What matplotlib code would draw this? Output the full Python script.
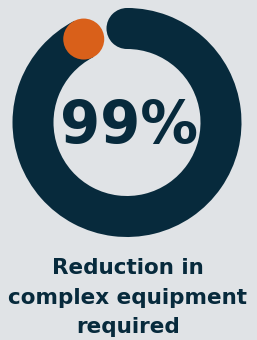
import numpy as np
import matplotlib
matplotlib.use("Agg")
import matplotlib.pyplot as plt
from matplotlib.patches import Wedge, Circle

value = 99
label_lines = ["Reduction in", "complex equipment", "required"]

bg = "#e0e3e6"
navy = "#072a3c"
orange = "#d9601a"

fig = plt.figure(figsize=(2.57, 3.40), dpi=100)
fig.patch.set_facecolor(bg)
ax = fig.add_axes([0, 0, 1, 1])
ax.set_xlim(0, 257)
ax.set_ylim(0, 340)
ax.set_aspect("equal")
ax.axis("off")

cx, cy = 127, 217.5
r_out = 114.5
ring_w = 41
r_mid = r_out - ring_w / 2
start_deg = 90
end_deg = 117.4

# dark ring, round cap at the top, orange dot at the other end
ax.add_patch(Wedge((cx, cy), r_out, end_deg, start_deg + 360, width=ring_w,
                   facecolor=navy, edgecolor="none"))
a = np.deg2rad(start_deg)
ax.add_patch(Circle((cx + r_mid * np.cos(a), cy + r_mid * np.sin(a)), ring_w / 2,
                    facecolor=navy, edgecolor="none"))
b = np.deg2rad(end_deg)
ax.add_patch(Circle((cx + r_mid * np.cos(b), cy + r_mid * np.sin(b)), ring_w / 2,
                    facecolor=orange, edgecolor="none", zorder=3))

ax.text(cx + 2, cy - 4, f"{value}%", ha="center", va="center", fontsize=41.5,
        fontweight="bold", color=navy, family="DejaVu Sans")

for i, line in enumerate(label_lines):
    ax.text(128, 340 - 268 - i * 29.5, line, ha="center", va="center", fontsize=15.5,
            fontweight="bold", color=navy, family="DejaVu Sans")

fig.savefig("out.png", dpi=100, facecolor=bg)
